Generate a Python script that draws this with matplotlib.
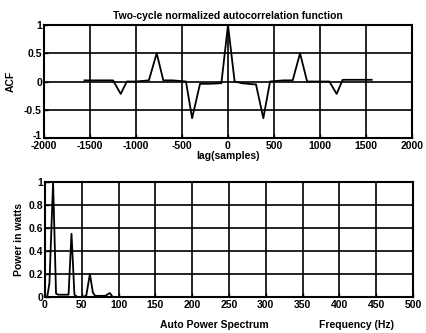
import matplotlib
matplotlib.use("Agg")
import matplotlib.pyplot as plt
from matplotlib.transforms import ScaledTranslation

# ACF data (lag in samples, normalized value)
acf_lag = [-1560, -1250, -1166, -1100, -1000, -860, -775, -703, -600, -457, -390, -304, -200,
           -72, 0, 72, 150, 280, 304, 384, 457, 600, 703, 783, 860, 1000, 1101, 1181, 1246, 1400, 1562]
acf_val = [0.02, 0.02, -0.22, 0.0, 0.0, 0.02, 0.5, 0.02, 0.02, 0.0, -0.65, -0.04, -0.04,
           -0.03, 1.0, 0.0, -0.03, -0.05, -0.05, -0.65, 0.0, 0.02, 0.02, 0.5, 0.0, 0.0, 0.0, -0.22, 0.03, 0.03, 0.03]

# Power spectrum data
freq_hz = [0, 3, 6, 11, 15, 18, 25, 32, 36, 40, 44, 50, 56, 61, 65, 68, 75, 82, 88, 92, 95, 500]
power_w = [0, 0, 0.12, 1.0, 0.03, 0.02, 0.02, 0.02, 0.55, 0.02, 0.0, 0.0, 0.01, 0.2, 0.04, 0.01, 0.01, 0.01, 0.035, 0.0, 0.0, 0.0]

acf_yticks = [-1, -0.5, 0, 0.5, 1]
acf_yticklabels = ["-1", "-0.5", "0", "0.5", "1"]
acf_xticks = [-2000, -1500, -1000, -500, 0, 500, 1000, 1500, 2000]
psd_yticks = [0, 0.2, 0.4, 0.6, 0.8, 1]
psd_yticklabels = ["0", "0.2", "0.4", "0.6", "0.8", "1"]
psd_xticks = [0, 50, 100, 150, 200, 250, 300, 350, 400, 450, 500]

plt.rcParams['font.family'] = ['Liberation Sans', 'DejaVu Sans']
plt.rcParams['font.weight'] = 'bold'
plt.rcParams['axes.titleweight'] = 'bold'
plt.rcParams['axes.labelweight'] = 'bold'
fs = 7.5

fig = plt.figure(figsize=(4.27, 3.33), dpi=100)
W, H = 427, 333
ax1 = fig.add_axes([44 / W, 1 - 138 / H, (412 - 44) / W, (138 - 25) / H])
ax2 = fig.add_axes([45 / W, 1 - 297 / H, (413 - 45) / W, (297 - 182) / H])

for ax in (ax1, ax2):
    ax.grid(True, color='black', linewidth=1.2, linestyle='-')
    ax.set_axisbelow(True)
    for s in ax.spines.values():
        s.set_linewidth(1.5)
    ax.tick_params(direction='in', length=3, width=1, labelsize=fs, pad=1.5)
    ax.tick_params(axis='x', pad=2.5)

ax1.plot(acf_lag, acf_val, color='black', linewidth=1.3)
ax1.set_xlim(-2000, 2000)
ax1.set_ylim(-1, 1)
ax1.set_xticks(acf_xticks)
ax1.set_xticklabels([str(t) for t in acf_xticks])
ax1.set_yticks(acf_yticks)
ax1.set_yticklabels(acf_yticklabels)
# nudge the bottom "-1" label upward slightly, as in the reference
lbl = ax1.get_yticklabels()[0]
lbl.set_transform(lbl.get_transform() + ScaledTranslation(0, 2 / 72, fig.dpi_scale_trans))
ax1.set_title("Two-cycle normalized autocorrelation function", fontsize=fs, pad=4)
ax1.set_xlabel("lag(samples)", fontsize=fs, labelpad=0)
ax1.set_ylabel("ACF", fontsize=fs, labelpad=6)

ax2.plot(freq_hz, power_w, color='black', linewidth=1.3)
ax2.set_xlim(0, 500)
ax2.set_ylim(0, 1)
ax2.set_xticks(psd_xticks)
ax2.set_xticklabels([str(t) for t in psd_xticks])
ax2.set_yticks(psd_yticks)
ax2.set_yticklabels(psd_yticklabels)
ax2.set_ylabel("Power in watts", fontsize=fs, labelpad=3)
fig.text(214 / W, 1 - 325 / H, "Auto Power Spectrum", fontsize=fs, ha='center', va='center')
fig.text(357 / W, 1 - 325 / H, "Frequency (Hz)", fontsize=fs, ha='center', va='center')

fig.savefig("out.png", dpi=100)
